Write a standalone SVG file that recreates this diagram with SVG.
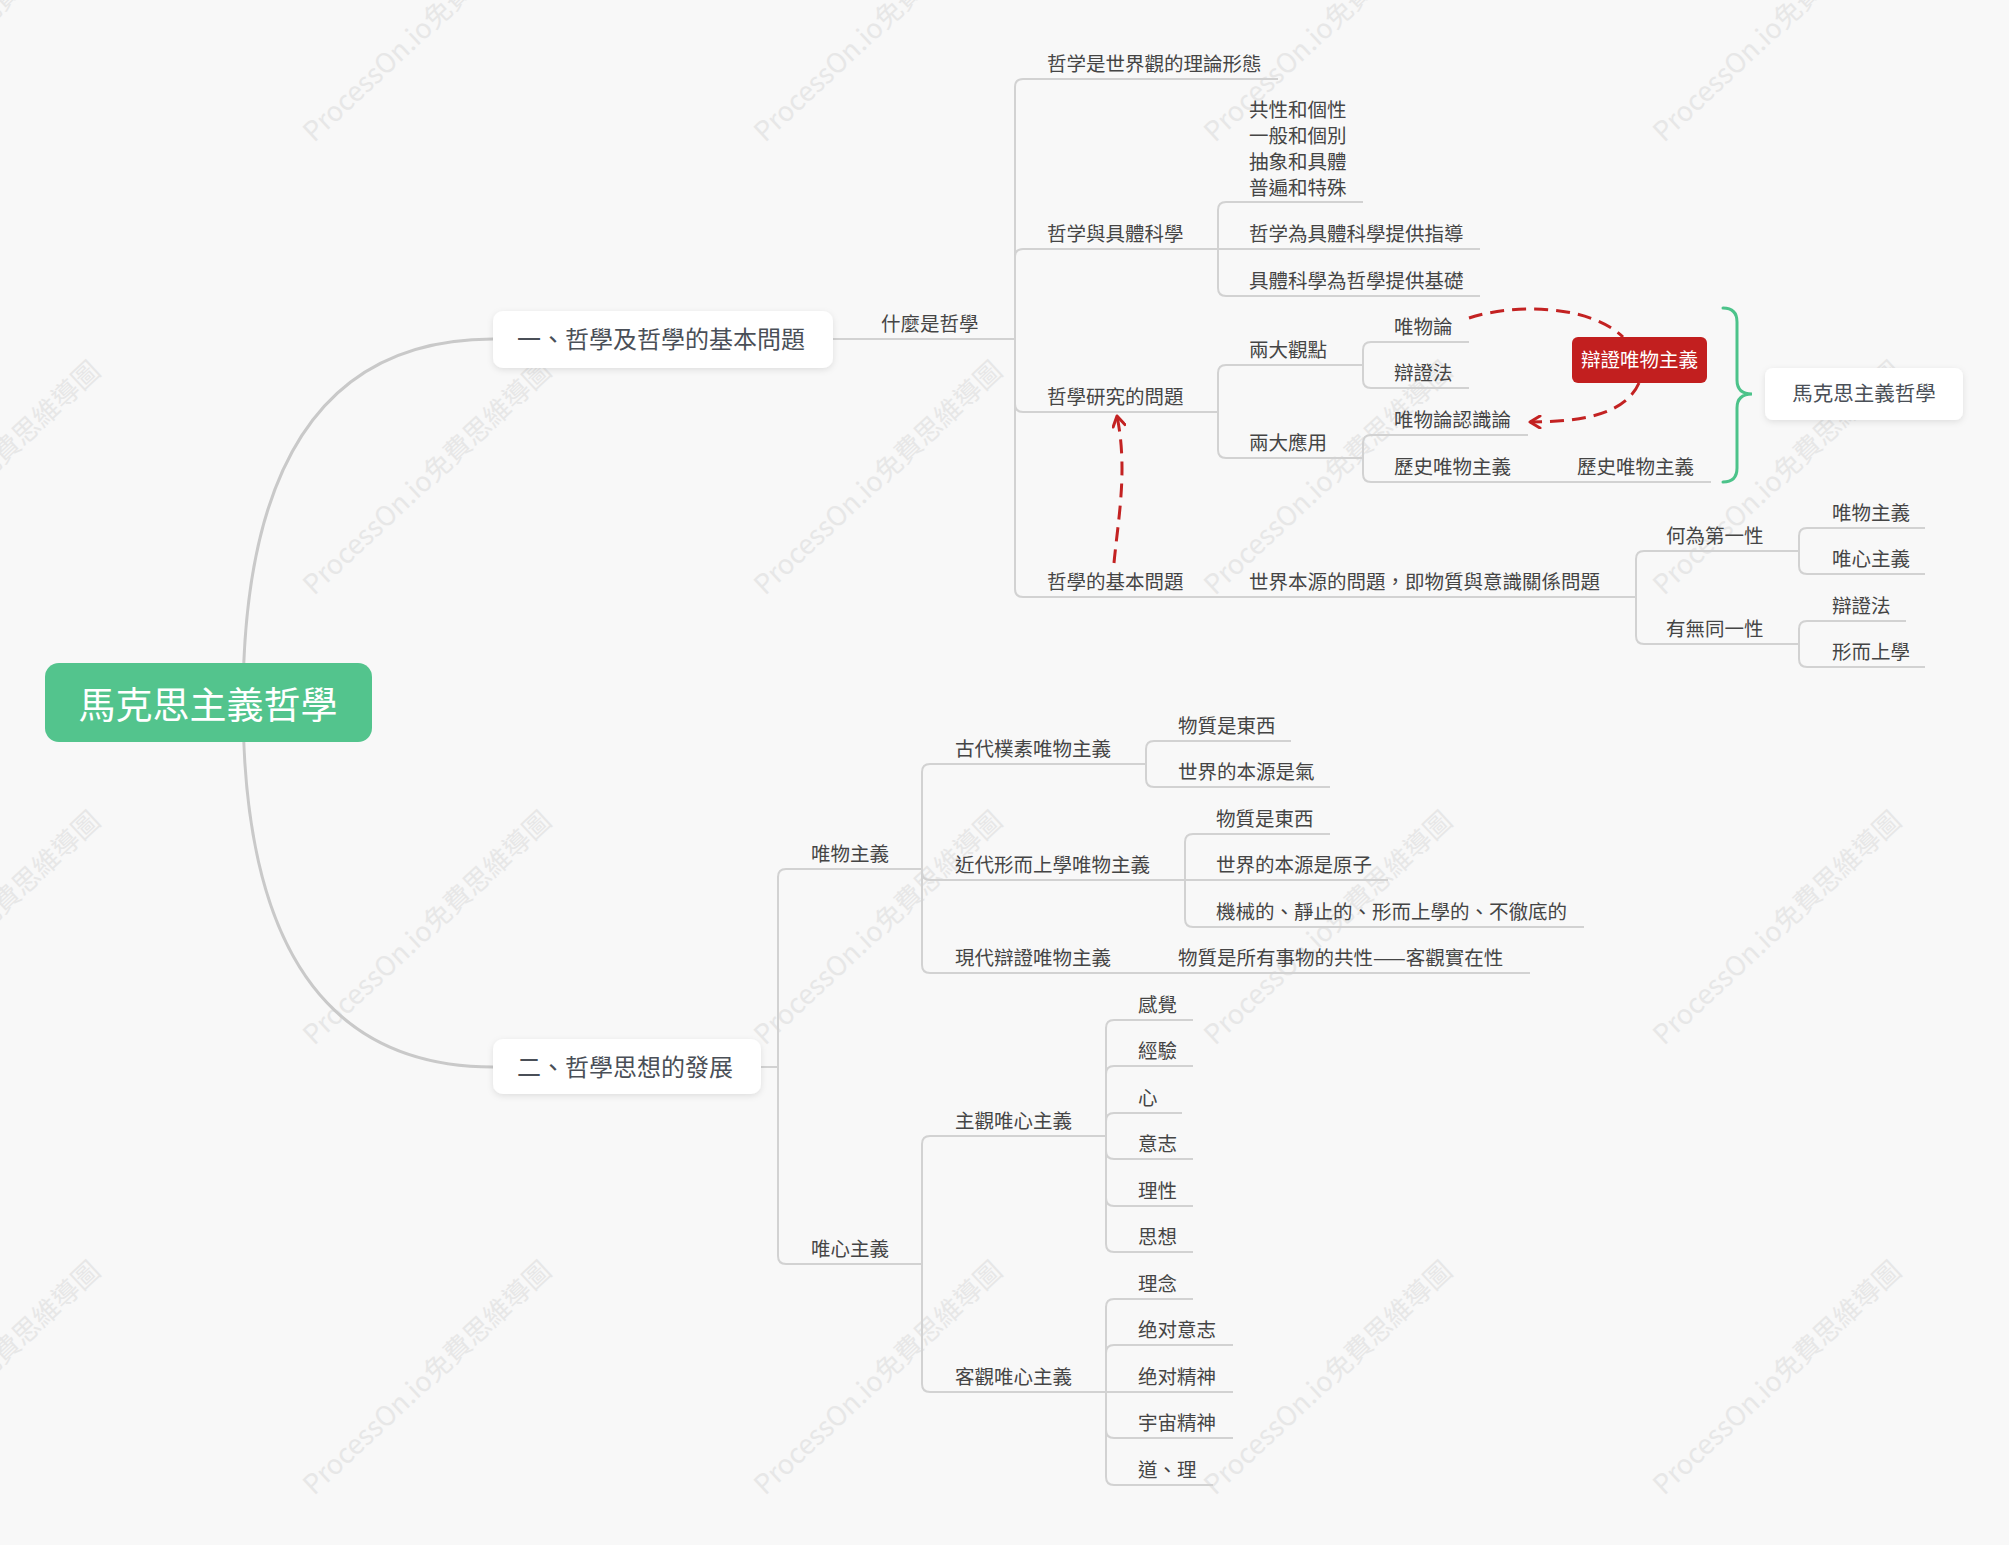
<svg xmlns="http://www.w3.org/2000/svg" width="2009" height="1545" viewBox="0 0 2009 1545">
<defs>
<style>
.lbl{font-family:'Noto Sans CJK TC','Noto Sans CJK SC',sans-serif;font-size:19.5px;fill:#454545}
.nd{font-family:'Noto Sans CJK TC','Noto Sans CJK SC',sans-serif;font-size:24px;fill:#4a4f57}
.wm{font-family:'Noto Sans CJK TC','Noto Sans CJK SC',sans-serif;font-size:27px;fill:#e7e7e7}
.ln{fill:none;stroke:#d2d2d2;stroke-width:2}
.main{fill:none;stroke:#c9c9c9;stroke-width:3}
.dash{fill:none;stroke:#c32222;stroke-width:3;stroke-dasharray:14 8}
</style>
<filter id="sh" x="-10%" y="-20%" width="120%" height="150%">
<feDropShadow dx="0" dy="2" stdDeviation="3" flood-color="#000" flood-opacity="0.10"/>
</filter>
<marker id="arr" viewBox="0 0 14 14" refX="12" refY="7" markerWidth="14" markerHeight="14" markerUnits="userSpaceOnUse" orient="auto">
<path d="M2 1 L12 7 L2 13" fill="none" stroke="#c32222" stroke-width="3" stroke-linecap="round" stroke-linejoin="round"/>
</marker>
</defs>
<rect width="2009" height="1545" fill="#f8f8f8"/>
<g id="watermarks">
<text class="wm" transform="translate(-137,143) rotate(-43)">ProcessOn.io免費思維導圖</text>
<text class="wm" transform="translate(314,143) rotate(-43)">ProcessOn.io免費思維導圖</text>
<text class="wm" transform="translate(765,143) rotate(-43)">ProcessOn.io免費思維導圖</text>
<text class="wm" transform="translate(1215,143) rotate(-43)">ProcessOn.io免費思維導圖</text>
<text class="wm" transform="translate(1664,143) rotate(-43)">ProcessOn.io免費思維導圖</text>
<text class="wm" transform="translate(-137,596) rotate(-43)">ProcessOn.io免費思維導圖</text>
<text class="wm" transform="translate(314,596) rotate(-43)">ProcessOn.io免費思維導圖</text>
<text class="wm" transform="translate(765,596) rotate(-43)">ProcessOn.io免費思維導圖</text>
<text class="wm" transform="translate(1215,596) rotate(-43)">ProcessOn.io免費思維導圖</text>
<text class="wm" transform="translate(1664,596) rotate(-43)">ProcessOn.io免費思維導圖</text>
<text class="wm" transform="translate(-137,1046) rotate(-43)">ProcessOn.io免費思維導圖</text>
<text class="wm" transform="translate(314,1046) rotate(-43)">ProcessOn.io免費思維導圖</text>
<text class="wm" transform="translate(765,1046) rotate(-43)">ProcessOn.io免費思維導圖</text>
<text class="wm" transform="translate(1215,1046) rotate(-43)">ProcessOn.io免費思維導圖</text>
<text class="wm" transform="translate(1664,1046) rotate(-43)">ProcessOn.io免費思維導圖</text>
<text class="wm" transform="translate(-137,1496) rotate(-43)">ProcessOn.io免費思維導圖</text>
<text class="wm" transform="translate(314,1496) rotate(-43)">ProcessOn.io免費思維導圖</text>
<text class="wm" transform="translate(765,1496) rotate(-43)">ProcessOn.io免費思維導圖</text>
<text class="wm" transform="translate(1215,1496) rotate(-43)">ProcessOn.io免費思維導圖</text>
<text class="wm" transform="translate(1664,1496) rotate(-43)">ProcessOn.io免費思維導圖</text>
</g>
<g id="connectors">
<path class="main" d="M243 703 Q243 339 493 339"/>
<path class="main" d="M243 703 Q243 1067 493 1067"/>
<path class="ln" d="M833 339 L1015 339"/>
<path class="ln" d="M1015 339 L1015 87 Q1015 79 1023 79 L1278 79"/>
<path class="ln" d="M1015 339 L1015 257 Q1015 249 1023 249 L1218 249"/>
<path class="ln" d="M1015 339 L1015 404 Q1015 412 1023 412 L1218 412"/>
<path class="ln" d="M1015 339 L1015 589 Q1015 597 1023 597 L1636 597"/>
<path class="ln" d="M1218 249 L1218 210 Q1218 202 1226 202 L1363 202"/>
<path class="ln" d="M1218 249 L1480 249"/>
<path class="ln" d="M1218 249 L1218 288 Q1218 296 1226 296 L1480 296"/>
<path class="ln" d="M1218 412 L1218 373 Q1218 365 1226 365 L1363 365"/>
<path class="ln" d="M1218 412 L1218 450 Q1218 458 1226 458 L1363 458"/>
<path class="ln" d="M1363 365 L1363 350 Q1363 342 1371 342 L1469 342"/>
<path class="ln" d="M1363 365 L1363 380 Q1363 388 1371 388 L1469 388"/>
<path class="ln" d="M1363 458 L1363 443 Q1363 435 1371 435 L1528 435"/>
<path class="ln" d="M1363 458 L1363 474 Q1363 482 1371 482 L1711 482"/>
<path class="ln" d="M1636 597 L1636 559 Q1636 551 1644 551 L1799 551"/>
<path class="ln" d="M1636 597 L1636 636 Q1636 644 1644 644 L1799 644"/>
<path class="ln" d="M1799 551 L1799 536 Q1799 528 1807 528 L1925 528"/>
<path class="ln" d="M1799 551 L1799 566 Q1799 574 1807 574 L1925 574"/>
<path class="ln" d="M1799 644 L1799 629 Q1799 621 1807 621 L1906 621"/>
<path class="ln" d="M1799 644 L1799 659 Q1799 667 1807 667 L1925 667"/>
<path class="ln" d="M761 1067 L778 1067"/>
<path class="ln" d="M778 1067 L778 877 Q778 869 786 869 L922 869"/>
<path class="ln" d="M778 1067 L778 1256 Q778 1264 786 1264 L922 1264"/>
<path class="ln" d="M922 869 L922 772 Q922 764 930 764 L1146 764"/>
<path class="ln" d="M922 869 L922 872 Q922 880 930 880 L1185 880"/>
<path class="ln" d="M922 869 L922 965 Q922 973 930 973 L1530 973"/>
<path class="ln" d="M1146 764 L1146 749 Q1146 741 1154 741 L1291 741"/>
<path class="ln" d="M1146 764 L1146 779 Q1146 787 1154 787 L1330 787"/>
<path class="ln" d="M1185 880 L1185 842 Q1185 834 1193 834 L1330 834"/>
<path class="ln" d="M1185 880 L1388 880"/>
<path class="ln" d="M1185 880 L1185 919 Q1185 927 1193 927 L1584 927"/>
<path class="ln" d="M922 1264 L922 1144 Q922 1136 930 1136 L1106 1136"/>
<path class="ln" d="M922 1264 L922 1384 Q922 1392 930 1392 L1106 1392"/>
<path class="ln" d="M1106 1136 L1106 1028 Q1106 1020 1114 1020 L1193 1020"/>
<path class="ln" d="M1106 1136 L1106 1074 Q1106 1066 1114 1066 L1193 1066"/>
<path class="ln" d="M1106 1136 L1106 1121 Q1106 1113 1114 1113 L1182 1113"/>
<path class="ln" d="M1106 1136 L1106 1151 Q1106 1159 1114 1159 L1193 1159"/>
<path class="ln" d="M1106 1136 L1106 1198 Q1106 1206 1114 1206 L1193 1206"/>
<path class="ln" d="M1106 1136 L1106 1244 Q1106 1252 1114 1252 L1193 1252"/>
<path class="ln" d="M1106 1392 L1106 1307 Q1106 1299 1114 1299 L1193 1299"/>
<path class="ln" d="M1106 1392 L1106 1353 Q1106 1345 1114 1345 L1233 1345"/>
<path class="ln" d="M1106 1392 L1233 1392"/>
<path class="ln" d="M1106 1392 L1106 1430 Q1106 1438 1114 1438 L1233 1438"/>
<path class="ln" d="M1106 1392 L1106 1477 Q1106 1485 1114 1485 L1213 1485"/>
<path class="dash" d="M1469 318 C1515 303 1590 305 1623 337"/>
<path class="dash" d="M1639 383 C1625 415 1580 422 1530 422" marker-end="url(#arr)"/>
<path class="dash" d="M1114 563 C1118 520 1128 470 1117 416" marker-end="url(#arr)"/>
<path d="M1723 308 Q1737 308 1737 322 L1737 380 Q1737 394 1752 394 Q1737 394 1737 408 L1737 468 Q1737 482 1723 482" fill="none" stroke="#4cc38a" stroke-width="3" stroke-linecap="round"/>
</g>
<g id="root">
<rect x="45" y="663" width="327" height="79" rx="14" fill="#53c48d"/>
<text x="208" y="719" text-anchor="middle" font-family="'Noto Sans CJK TC','Noto Sans CJK SC',sans-serif" font-size="37" fill="#ffffff">馬克思主義哲學</text>
</g>
<g id="node-a">
<rect x="493" y="311" width="340" height="57" rx="10" fill="#ffffff" filter="url(#sh)"/>
<text class="nd" x="517" y="348">一、哲學及哲學的基本問題</text>
</g>
<g id="node-b">
<rect x="493" y="1039" width="268" height="55" rx="10" fill="#ffffff" filter="url(#sh)"/>
<text class="nd" x="517" y="1076">二、哲學思想的發展</text>
</g>
<g id="n-shenme"><text class="lbl" x="881" y="331">什麼是哲學</text></g>
<g id="n-a1"><text class="lbl" x="1047" y="71">哲学是世界觀的理論形態</text></g>
<g id="n-a2"><text class="lbl" x="1047" y="241">哲学與具體科學</text></g>
<g id="n-a2-1"><text class="lbl" x="1249" y="117">共性和個性</text><text class="lbl" x="1249" y="143">一般和個別</text><text class="lbl" x="1249" y="169">抽象和具體</text><text class="lbl" x="1249" y="195">普遍和特殊</text></g>
<g id="n-a2-2"><text class="lbl" x="1249" y="241">哲学為具體科學提供指導</text></g>
<g id="n-a2-3"><text class="lbl" x="1249" y="288">具體科學為哲學提供基礎</text></g>
<g id="n-a3"><text class="lbl" x="1047" y="404">哲學研究的問題</text></g>
<g id="n-a3-1"><text class="lbl" x="1249" y="357">兩大觀點</text></g>
<g id="n-a3-1-1"><text class="lbl" x="1394" y="334">唯物論</text></g>
<g id="n-a3-1-2"><text class="lbl" x="1394" y="380">辯證法</text></g>
<g id="n-a3-2"><text class="lbl" x="1249" y="450">兩大應用</text></g>
<g id="n-a3-2-1"><text class="lbl" x="1394" y="427">唯物論認識論</text></g>
<g id="n-a3-2-2"><text class="lbl" x="1394" y="474">歷史唯物主義</text></g>
<g id="n-a3-2-2-1"><text class="lbl" x="1577" y="474">歷史唯物主義</text></g>
<g id="n-dialectical">
<rect x="1572" y="337" width="135" height="46" rx="6" fill="#c21f1f"/>
<text x="1639.5" y="367" text-anchor="middle" font-family="'Noto Sans CJK TC','Noto Sans CJK SC',sans-serif" font-size="19.5" fill="#ffffff">辯證唯物主義</text>
</g>
<g id="n-marxism">
<rect x="1765" y="368" width="198" height="52" rx="8" fill="#ffffff" filter="url(#sh)"/>
<text x="1864" y="401" text-anchor="middle" font-family="'Noto Sans CJK TC','Noto Sans CJK SC',sans-serif" font-size="20.5" fill="#4a4f57">馬克思主義哲學</text>
</g>
<g id="n-a4"><text class="lbl" x="1047" y="589">哲學的基本問題</text></g>
<g id="n-a4-1"><text class="lbl" x="1249" y="589">世界本源的問題，即物質與意識關係問題</text></g>
<g id="n-a4-1-1"><text class="lbl" x="1666" y="543">何為第一性</text></g>
<g id="n-a4-1-1-1"><text class="lbl" x="1832" y="520">唯物主義</text></g>
<g id="n-a4-1-1-2"><text class="lbl" x="1832" y="566">唯心主義</text></g>
<g id="n-a4-1-2"><text class="lbl" x="1666" y="636">有無同一性</text></g>
<g id="n-a4-1-2-1"><text class="lbl" x="1832" y="613">辯證法</text></g>
<g id="n-a4-1-2-2"><text class="lbl" x="1832" y="659">形而上學</text></g>
<g id="n-b1"><text class="lbl" x="811" y="861">唯物主義</text></g>
<g id="n-b1-1"><text class="lbl" x="955" y="756">古代樸素唯物主義</text></g>
<g id="n-b1-1-1"><text class="lbl" x="1178" y="733">物質是東西</text></g>
<g id="n-b1-1-2"><text class="lbl" x="1178" y="779">世界的本源是氣</text></g>
<g id="n-b1-2"><text class="lbl" x="955" y="872">近代形而上學唯物主義</text></g>
<g id="n-b1-2-1"><text class="lbl" x="1216" y="826">物質是東西</text></g>
<g id="n-b1-2-2"><text class="lbl" x="1216" y="872">世界的本源是原子</text></g>
<g id="n-b1-2-3"><text class="lbl" x="1216" y="919">機械的、靜止的、形而上學的、不徹底的</text></g>
<g id="n-b1-3"><text class="lbl" x="955" y="965">現代辯證唯物主義</text></g>
<g id="n-b1-3-1"><text class="lbl" x="1178" y="965">物質是所有事物的共性——客觀實在性</text></g>
<g id="n-b2"><text class="lbl" x="811" y="1256">唯心主義</text></g>
<g id="n-b2-1"><text class="lbl" x="955" y="1128">主觀唯心主義</text></g>
<g id="n-b2-1-1"><text class="lbl" x="1138" y="1012">感覺</text></g>
<g id="n-b2-1-2"><text class="lbl" x="1138" y="1058">經驗</text></g>
<g id="n-b2-1-3"><text class="lbl" x="1138" y="1105">心</text></g>
<g id="n-b2-1-4"><text class="lbl" x="1138" y="1151">意志</text></g>
<g id="n-b2-1-5"><text class="lbl" x="1138" y="1198">理性</text></g>
<g id="n-b2-1-6"><text class="lbl" x="1138" y="1244">思想</text></g>
<g id="n-b2-2"><text class="lbl" x="955" y="1384">客觀唯心主義</text></g>
<g id="n-b2-2-1"><text class="lbl" x="1138" y="1291">理念</text></g>
<g id="n-b2-2-2"><text class="lbl" x="1138" y="1337">绝对意志</text></g>
<g id="n-b2-2-3"><text class="lbl" x="1138" y="1384">绝对精神</text></g>
<g id="n-b2-2-4"><text class="lbl" x="1138" y="1430">宇宙精神</text></g>
<g id="n-b2-2-5"><text class="lbl" x="1138" y="1477">道、理</text></g>
</svg>
